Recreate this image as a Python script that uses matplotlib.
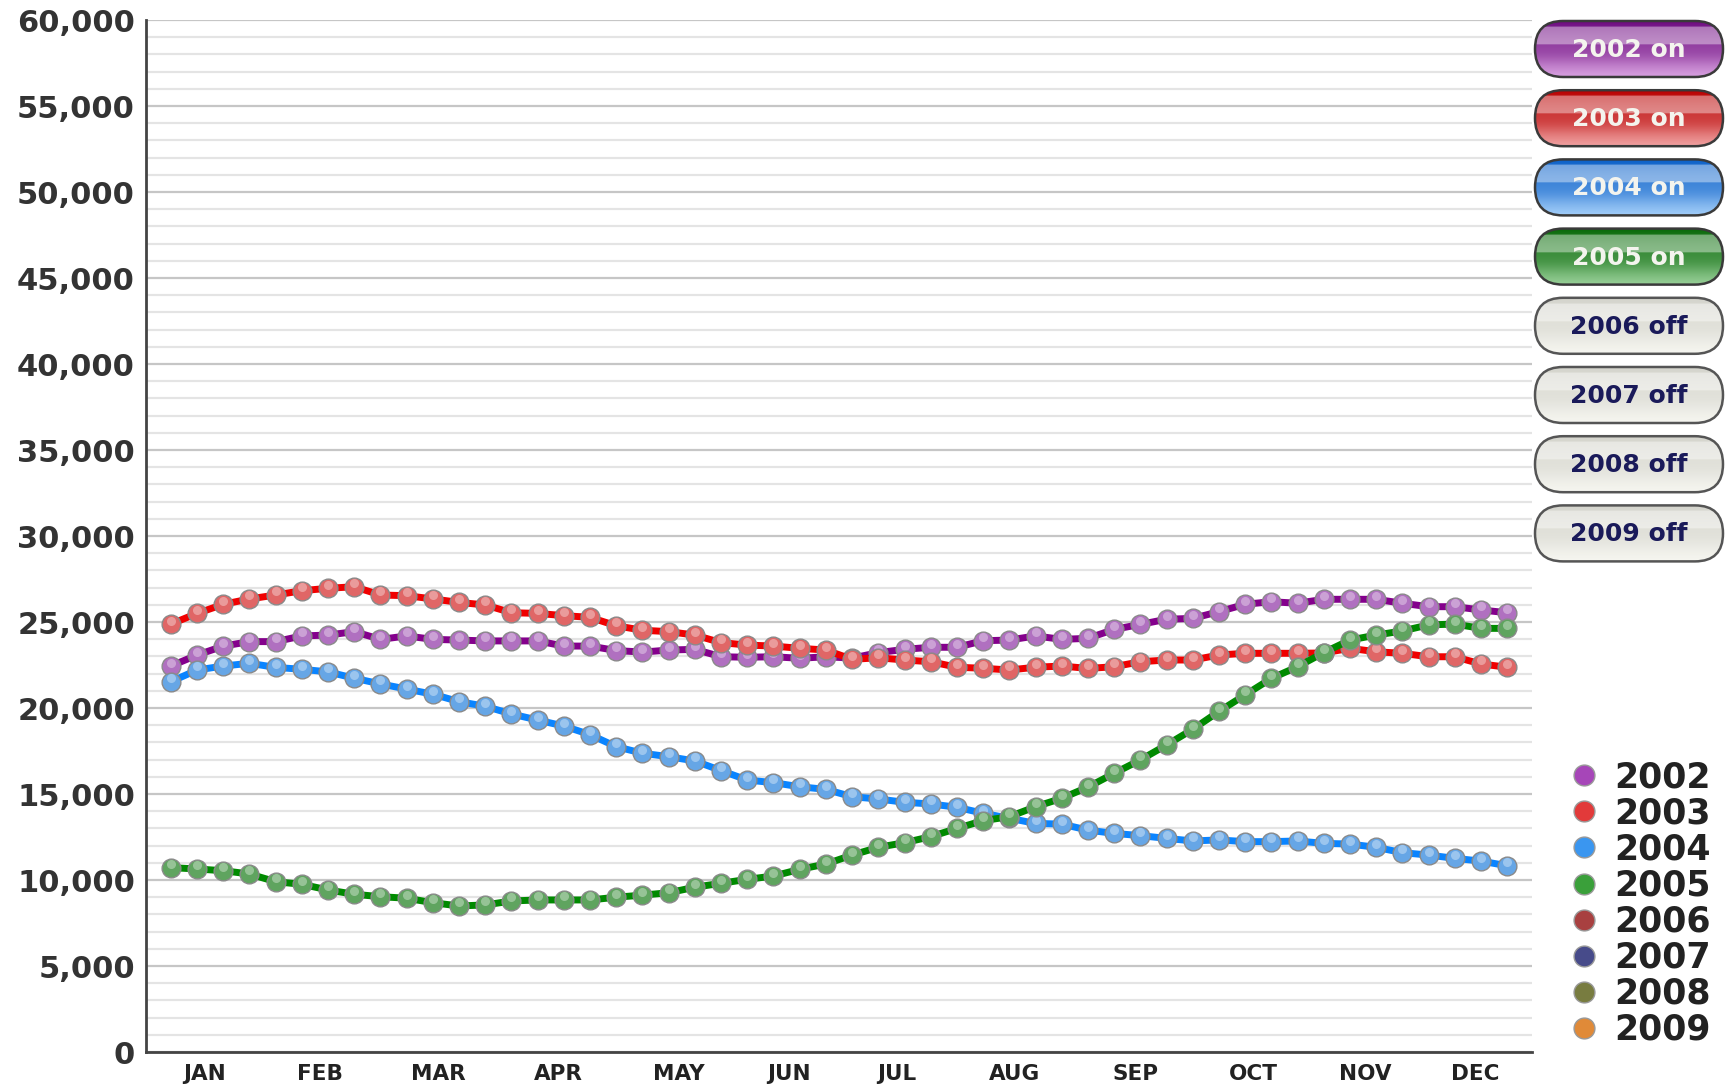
import matplotlib
matplotlib.use("Agg")
import matplotlib.pyplot as plt
import numpy as np
from matplotlib.patches import FancyBboxPatch
from matplotlib.lines import Line2D
from matplotlib.ticker import MultipleLocator, FuncFormatter
import matplotlib.transforms as mtransforms
import matplotlib.colors as mcolors

# weekly values, 52 points per year
weeks = np.arange(52)

y2002 = [22440, 23080, 23600, 23860, 23860, 24190, 24240, 24440, 23990, 24190,
         23990, 23950, 23900, 23900, 23900, 23600, 23600, 23340, 23250, 23370,
         23410, 22980, 22950, 22980, 22890, 22980, 22900, 23220, 23410, 23530,
         23530, 23910, 23950, 24190, 23990, 24050, 24570, 24860, 25160, 25210,
         25600, 26030, 26180, 26090, 26320, 26320, 26320, 26090, 25890, 25890,
         25700, 25540]
y2003 = [24880, 25500, 26030, 26340, 26570, 26820, 26960, 27050, 26570, 26530,
         26340, 26140, 25990, 25540, 25500, 25370, 25270, 24780, 24520, 24440,
         24240, 23800, 23660, 23600, 23470, 23370, 22830, 22920, 22790, 22690,
         22370, 22310, 22210, 22370, 22440, 22300, 22400, 22690, 22790, 22790,
         23080, 23180, 23180, 23180, 23200, 23470, 23270, 23180, 22980, 22980,
         22560, 22370]
y2004 = [21530, 22210, 22440, 22600, 22360, 22250, 22100, 21730, 21400, 21100,
         20800, 20370, 20100, 19650, 19300, 18950, 18450, 17750, 17370, 17170,
         16920, 16360, 15810, 15660, 15420, 15270, 14840, 14710, 14520, 14420,
         14230, 13880, 13590, 13290, 13250, 12900, 12710, 12580, 12420, 12270,
         12330, 12230, 12230, 12270, 12130, 12090, 11900, 11590, 11450, 11260,
         11100, 10830]
y2005 = [10720, 10640, 10540, 10350, 9900, 9750, 9420, 9170, 9030, 8940,
         8680, 8490, 8550, 8780, 8840, 8840, 8840, 9000, 9120, 9260,
         9580, 9810, 10040, 10230, 10620, 10930, 11450, 11900, 12170, 12520,
         13000, 13450, 13680, 14260, 14750, 15400, 16200, 16980, 17850, 18760,
         19800, 20760, 21720, 22400, 23220, 23950, 24240, 24480, 24830, 24880,
         24630, 24630]

months = ['JAN', 'FEB', 'MAR', 'APR', 'MAY', 'JUN', 'JUL', 'AUG', 'SEP', 'OCT', 'NOV', 'DEC']
month_pos = [1.3, 5.7, 10.2, 14.8, 19.4, 23.6, 27.7, 32.2, 36.8, 41.3, 45.6, 49.8]

years = ['2002', '2003', '2004', '2005', '2006', '2007', '2008', '2009']
shown = ['2002', '2003', '2004', '2005']
series = [y2002, y2003, y2004, y2005]

line_colors = ['#84008c', '#f00000', '#0a84ff', '#008a00']
dot_colors = ['#b070c0', '#e06666', '#66a6e6', '#5fa45f']
legend_dot = ['#a646b8', '#e23a3a', '#3a96f0', '#3aa03a', '#a84040', '#474b8a', '#787c40', '#e08a38']
btn_dark = ['#6e0c80', '#b80000', '#0a5fc8', '#0a6a0a']
btn_light = ['#d8a0e0', '#f0a0a0', '#a0ccf8', '#98d098']

W, H = 1731, 1085
fig = plt.figure(figsize=(W / 100, H / 100), dpi=100)
ax = fig.add_axes([146 / W, 1 - 1052 / H, (1532 - 146) / W, (1052 - 20) / H])

for i, ys in enumerate(series):
    ax.plot(weeks, ys, color=line_colors[i], lw=5.0, zorder=3 + i * 0.1,
            solid_capstyle='round')
    ax.plot(weeks, ys, ls='none', marker='o', ms=13.5, mfc=dot_colors[i],
            mec='#8a8a8a', mew=1.0, zorder=3.05 + i * 0.1)
    # small highlight on each ball
    hl = mtransforms.offset_copy(ax.transData, fig=fig, x=0, y=3.5, units='dots')
    ax.plot(weeks, ys, ls='none', marker='o', ms=6.5, mfc='white', mec='none',
            alpha=0.35, transform=hl, zorder=3.06 + i * 0.1)

ax.set_xlim(-0.95, 51.95)
ax.set_ylim(0, 60000)
ax.yaxis.set_major_locator(MultipleLocator(5000))
ax.yaxis.set_minor_locator(MultipleLocator(1000))
ax.yaxis.set_major_formatter(FuncFormatter(lambda v, p: f'{int(v):,}'))
ax.grid(which='major', axis='y', color='#c6c6c6', lw=1.6, zorder=1)
ax.grid(which='minor', axis='y', color='#e4e4e4', lw=1.6, zorder=1)
ax.set_xticks(month_pos)
ax.set_xticklabels(months)
ax.tick_params(axis='both', which='both', length=0)
ax.tick_params(axis='y', pad=8, labelsize=22, labelcolor='#333333')
ax.tick_params(axis='x', pad=9, labelsize=15.5, labelcolor='#222222')
for lab in ax.get_xticklabels() + ax.get_yticklabels():
    lab.set_fontweight('bold')
for s in ['top', 'right']:
    ax.spines[s].set_visible(False)
for s in ['left', 'bottom']:
    ax.spines[s].set_color('#444444')
    ax.spines[s].set_linewidth(2)

# toggle buttons along the right side
ov = fig.add_axes([0, 0, 1, 1], zorder=5)
ov.set_xlim(0, W)
ov.set_ylim(0, H)
ov.axis('off')

bx, bw, bh = 1535, 188, 56
for i, yr in enumerate(years):
    cy = 49 + i * 69.2
    y0 = H - cy - bh / 2
    on = yr in shown
    if on:
        dark = np.array(mcolors.to_rgb(btn_dark[i]))
        light = np.array(mcolors.to_rgb(btn_light[i]))
        edge = '#3a3a3a'
    else:
        dark = np.array(mcolors.to_rgb('#d4d4cc'))
        light = np.array(mcolors.to_rgb('#f6f6f0'))
        edge = '#555555'
    t = np.linspace(0, 1, 60)[:, None]
    grad = dark * (1 - t) + light * t
    # darker in the middle so the glossy band stands out
    mid = np.exp(-((t - 0.55) / 0.2) ** 2)
    grad = grad * (1 - 0.25 * mid) + dark * 0.25 * mid
    band = (t > 0.1) & (t < 0.42)
    grad = np.where(band, grad * 0.6 + 0.4, grad)
    pill = FancyBboxPatch((bx, y0), bw, bh,
                          boxstyle=f"round,pad=0,rounding_size={bh / 2}",
                          fc='none', ec=edge, lw=1.8, zorder=6)
    ov.add_patch(pill)
    img = ov.imshow(grad[:, None, :].repeat(2, axis=1), extent=[bx, bx + bw, y0, y0 + bh],
                    origin='upper', aspect='auto', zorder=5, interpolation='bilinear')
    img.set_clip_path(pill)
    label = f'{yr} on' if on else f'{yr} off'
    ov.text(bx + bw / 2, y0 + bh / 2 - 1, label, ha='center', va='center',
            fontsize=18, fontweight='bold', zorder=7,
            color='#f4f4ee' if on else '#1a1a5a')
ov.set_xlim(0, W)
ov.set_ylim(0, H)

# year legend in the lower right corner
handles = [Line2D([], [], ls='none', marker='o', ms=15, mfc=c, mec='#999999', mew=1)
           for c in legend_dot]
fig.legend(handles, years, loc='lower left', bbox_to_anchor=(1567 / W, 1 - 1047 / H),
           frameon=False, labelspacing=0.06, handletextpad=0.35,
           handlelength=1.0, borderpad=0, borderaxespad=0,
           prop={'weight': 'bold', 'size': 25})
for txt in fig.legends[0].get_texts():
    txt.set_color('#222222')

fig.savefig('out.png', dpi=100)
